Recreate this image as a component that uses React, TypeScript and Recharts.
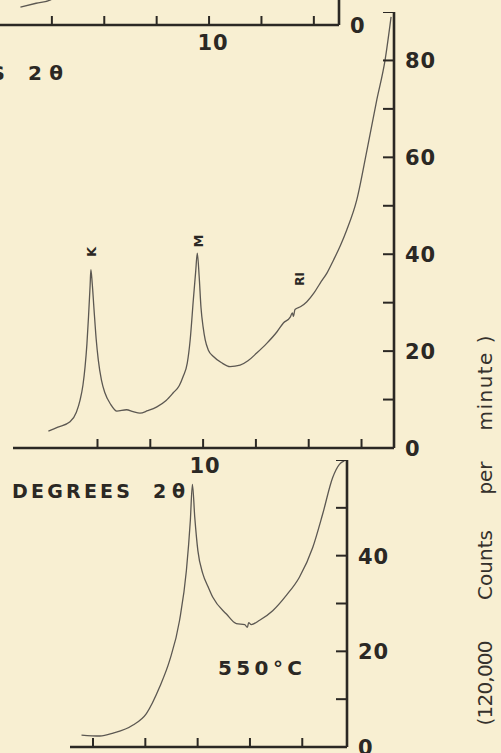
import { LineChart, Line, XAxis, YAxis } from 'recharts';

const PAPER = '#f8efd2';
const INK = '#2b2824';
const TRACE = '#5c5852';
const FONT = '"DejaVu Sans", Verdana, sans-serif';

// top panel: only its bottom edge is inside the frame
const topTheta = [17.2, 16.6, 16.05, 15.6, 15.0];
const topCounts = [3.7, 4.5, 5.2, 7.0, 9.5];
const topXTicks = [6, 8, 10, 12, 14, 16];
const topYTicks = [0, 10, 20, 30, 40, 50, 60];

// middle panel: K, M and RI reflections
const midTheta = [
  15.86, 15.5, 15.04, 14.8, 14.66, 14.55, 14.47, 14.4, 14.34, 14.28, 14.25, 14.2, 14.13, 14.05, 13.97,
  13.85, 13.72, 13.5, 13.27, 12.9, 12.65, 12.39, 12.1, 11.75, 11.4, 11.13, 10.9, 10.76, 10.6, 10.49,
  10.37, 10.28, 10.22, 10.15, 10.08, 10.0, 9.92, 9.8, 9.61, 9.3, 8.98, 8.6, 8.3, 7.97, 7.59,
  7.2, 6.96, 6.7, 6.62, 6.58, 6.52, 6.3, 6.07, 5.8, 5.57, 5.3, 5.06, 4.8, 4.56, 4.18, 3.79, 3.42, 3.11, 2.88,
];
const midCounts = [
  3.5, 4.3, 5.4, 7.4, 9.9, 13.0, 16.8, 21.5, 27.1, 33.5, 36.8, 34.0, 28.5, 22.5, 18.2,
  14.0, 11.4, 9.0, 7.6, 7.9, 7.5, 7.2, 7.7, 8.5, 9.8, 11.4, 12.9, 14.7, 17.5, 22.3,
  30.6, 36.5, 40.2, 35.5, 29.0, 25.0, 22.3, 20.2, 18.9, 17.6, 16.8, 17.1, 18.0, 19.6, 21.6,
  24.0, 25.8, 27.0, 27.9, 27.2, 28.6, 29.2, 30.2, 32.0, 34.0, 36.2, 38.8, 41.8, 45.0, 51.2, 61.6, 71.9, 80.0, 89.0,
];
const midXTicks = [4, 6, 8, 10, 12, 14];
const midYTicks = [0, 10, 20, 30, 40, 50, 60, 70, 80, 90];
const midYLabels = [0, 20, 40, 60, 80];

// bottom panel: 550°C
const lowTheta = [
  14.44, 13.74, 13.23, 12.47, 11.96, 11.45, 11.07, 10.69, 10.43, 10.28, 10.2, 10.11, 9.99, 9.8, 9.6, 9.42,
  8.9, 8.52, 8.2, 8.1, 8.05, 7.95, 7.63, 7.13, 6.61, 6.11, 5.6, 5.22, 4.84, 4.58, 4.39,
];
const lowCounts = [
  2.5, 2.3, 2.9, 4.6, 7.0, 12.6, 18.1, 26.5, 36.9, 47.3, 54.9, 48.0, 41.0, 36.2, 33.5, 31.3,
  27.8, 25.8, 25.6, 25.0, 26.0, 25.6, 26.5, 28.5, 31.7, 35.5, 41.7, 48.7, 56.3, 59.1, 59.8,
];
const lowXTicks = [6, 8, 10, 12, 14];
const lowYTicks = [0, 10, 20, 30, 40, 50, 60];
const lowYLabels = [0, 20, 40];

const zip = (t: number[], c: number[]) => t.map((v, i) => ({ t: v, c: c[i] }));

const X_AXIS_H = 30;
const Y_AXIS_W = 70;

// ticks point inward (up), only 10 degrees carries a label
const xTick = (labels: number[], dx: number) => (p: any) => (
  <g>
    <line x1={p.x} x2={p.x} y1={p.y} y2={p.y - 9} stroke={INK} strokeWidth={2} />
    {labels.includes(p.payload.value) && (
      <text x={p.x + dx} y={p.y + 25} textAnchor="middle" fontFamily={FONT} fontWeight="bold"
        fontSize={21} fill={INK} letterSpacing={1}>
        {p.payload.value}
      </text>
    )}
  </g>
);

const yTick = (labels: number[]) => (p: any) => (
  <g>
    <line x1={p.x} x2={p.x - 11} y1={p.y} y2={p.y} stroke={INK} strokeWidth={2} />
    {labels.includes(p.payload.value) && (
      <text x={p.x + 11} y={p.y + 8} fontFamily={FONT} fontWeight="bold" fontSize={21}
        fill={INK} letterSpacing={1}>
        {p.payload.value}
      </text>
    )}
  </g>
);

type PanelProps = {
  left: number; top: number; plotW: number; plotH: number;
  data: { t: number; c: number }[];
  xDomain: [number, number]; xTicks: number[]; xLabels: number[]; xLabelDx: number;
  yDomain: [number, number]; yTicks: number[]; yLabels: number[];
};

function Panel(p: PanelProps) {
  return (
    <div style={{ position: 'absolute', left: p.left, top: p.top }}>
      <LineChart width={p.plotW + Y_AXIS_W} height={p.plotH + X_AXIS_H} data={p.data}
        margin={{ top: 0, right: 0, bottom: 0, left: 0 }} style={{ overflow: 'visible' }}>
        <XAxis type="number" dataKey="t" domain={p.xDomain} reversed allowDataOverflow
          ticks={p.xTicks} interval={0} height={X_AXIS_H} tickSize={0} tickMargin={0} tickLine={false}
          axisLine={{ stroke: INK, strokeWidth: 2.6 }} tick={xTick(p.xLabels, p.xLabelDx)} />
        <YAxis orientation="right" type="number" domain={p.yDomain} allowDataOverflow
          ticks={p.yTicks} interval={0} width={Y_AXIS_W} tickSize={0} tickMargin={0} tickLine={false}
          axisLine={{ stroke: INK, strokeWidth: 2.6 }} tick={yTick(p.yLabels)} />
        <Line type="monotone" dataKey="c" stroke={TRACE} strokeWidth={1.3} dot={false} activeDot={false}
          isAnimationActive={false} />
      </LineChart>
    </div>
  );
}

const txt = { fontFamily: FONT, fill: INK } as const;

export default function App() {
  return (
    <div style={{ position: 'fixed', left: 0, top: 0, width: 501, height: 753, background: PAPER, overflow: 'hidden' }}>
      <Panel left={0} top={-265} plotW={339} plotH={290} data={zip(topTheta, topCounts)}
        xDomain={[5.04, 17.98]} xTicks={topXTicks} xLabels={[10]} xLabelDx={4}
        yDomain={[0, 60]} yTicks={topYTicks} yLabels={[0]} />
      <Panel left={13} top={12} plotW={381} plotH={436} data={zip(midTheta, midCounts)}
        xDomain={[2.77, 17.2]} xTicks={midXTicks} xLabels={[10]} xLabelDx={2}
        yDomain={[0, 90]} yTicks={midYTicks} yLabels={midYLabels} />
      <Panel left={70} top={460} plotW={277} plotH={287} data={zip(lowTheta, lowCounts)}
        xDomain={[4.29, 14.88]} xTicks={lowXTicks} xLabels={[]} xLabelDx={0}
        yDomain={[0, 60]} yTicks={lowYTicks} yLabels={lowYLabels} />

      <svg width={501} height={753} style={{ position: 'absolute', left: 0, top: 0, pointerEvents: 'none' }}>
        {/* tail of the upper panel's axis title */}
        <text {...txt} x={-113} y={80} fontSize={20} fontWeight="bold" textLength={118} lengthAdjust="spacing">DEGREES</text>
        <text {...txt} x={28} y={80} fontSize={20} fontWeight="bold" textLength={35} lengthAdjust="spacing">2θ</text>

        <text {...txt} x={12} y={498} fontSize={19} fontWeight="bold" textLength={118} lengthAdjust="spacing">DEGREES</text>
        <text {...txt} x={153} y={498} fontSize={19} fontWeight="bold" textLength={32} lengthAdjust="spacing">2θ</text>

        <text {...txt} x={218} y={675} fontSize={20} fontWeight="bold" textLength={84} lengthAdjust="spacing">550°C</text>

        <text {...txt} fontSize={13} fontWeight="bold" textAnchor="middle" transform="translate(96,252) rotate(-90)">K</text>
        <text {...txt} fontSize={13} fontWeight="bold" textAnchor="middle" transform="translate(203,241) rotate(-90)">M</text>
        <text {...txt} fontSize={12} fontWeight="bold" textAnchor="middle" transform="translate(304,279) rotate(-90)">RI</text>

        <g fontSize={20} fill="#35312c" fontFamily={FONT}>
          <text textAnchor="middle" transform="translate(492,683) rotate(-90)" textLength={85} lengthAdjust="spacing">(120,000</text>
          <text textAnchor="middle" transform="translate(492,565) rotate(-90)" textLength={70} lengthAdjust="spacing">Counts</text>
          <text textAnchor="middle" transform="translate(492,478) rotate(-90)" textLength={33} lengthAdjust="spacing">per</text>
          <text textAnchor="middle" transform="translate(492,383) rotate(-90)" textLength={95} lengthAdjust="spacing">minute )</text>
        </g>
      </svg>
    </div>
  );
}
